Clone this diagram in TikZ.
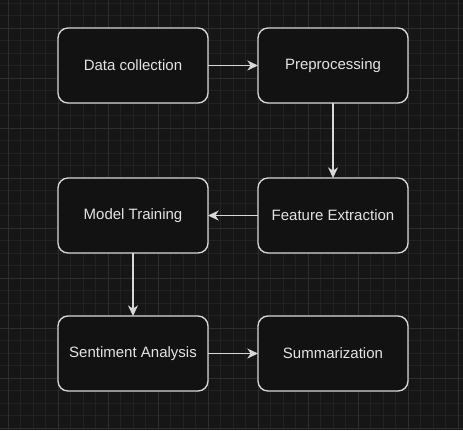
\documentclass[tikz,border=0pt]{standalone}
\usepackage{fontspec}
\setmainfont{Liberation Sans}
\usetikzlibrary{arrows.meta}
\definecolor{canvas}{HTML}{161616}
\definecolor{gridminor}{HTML}{222222}
\definecolor{gridmajor}{HTML}{2E2E2E}
\definecolor{boxfill}{HTML}{121212}
\definecolor{boxline}{HTML}{D8D8D8}
\definecolor{boxtext}{HTML}{E4E4E4}

\begin{document}
\begin{tikzpicture}[x=0.75pt, y=-0.75pt,
  stage/.style={draw=boxline, fill=boxfill, line width=1pt, rounded corners=7.5pt,
    minimum width=112.5pt, minimum height=56.25pt, outer sep=0pt, text=boxtext,
    font=\fontsize{11.25}{13.5}\selectfont},
  flow/.style={draw=boxline, line width=1pt, -{Stealth[length=8pt, width=7.5pt, inset=2.5pt]}}]

  % canvas
  \fill[canvas] (0,0) rectangle (463,430);
  \useasboundingbox (0,0) rectangle (463,430);

  % grid
  \foreach \gx in {0,...,36}
    \draw[gridminor, line width=0.75pt] ({8+12.5*\gx},0) -- ({8+12.5*\gx},430);
  \foreach \gy in {0,...,34}
    \draw[gridminor, line width=0.75pt] (0,{3.3+12.5*\gy}) -- (463,{3.3+12.5*\gy});
  \foreach \gx in {0,...,9}
    \draw[gridmajor, line width=0.75pt] ({8+50*\gx},0) -- ({8+50*\gx},430);
  \foreach \gy in {0,...,8}
    \draw[gridmajor, line width=0.75pt] (0,{28.3+50*\gy}) -- (463,{28.3+50*\gy});

  % stages
  \node[stage] (collect) at (133,65.5) {Data collection};
  \node[stage] (prep) at (333,65.5) {Preprocessing};
  \node[stage] (feature) at (333,215.5) {Feature Extraction};
  \node[stage] (train) at (133,215.5) {Model Training};
  \node[stage] (sentiment) at (133,353.5) {Sentiment Analysis};
  \node[stage] (summary) at (333,353.5) {Summarization};

  % flow
  \draw[flow] (collect) -- (prep);
  \draw[flow] (prep) -- (feature);
  \draw[flow] (feature) -- (train);
  \draw[flow] (train) -- (sentiment);
  \draw[flow] (sentiment) -- (summary);

\end{tikzpicture}
\end{document}
